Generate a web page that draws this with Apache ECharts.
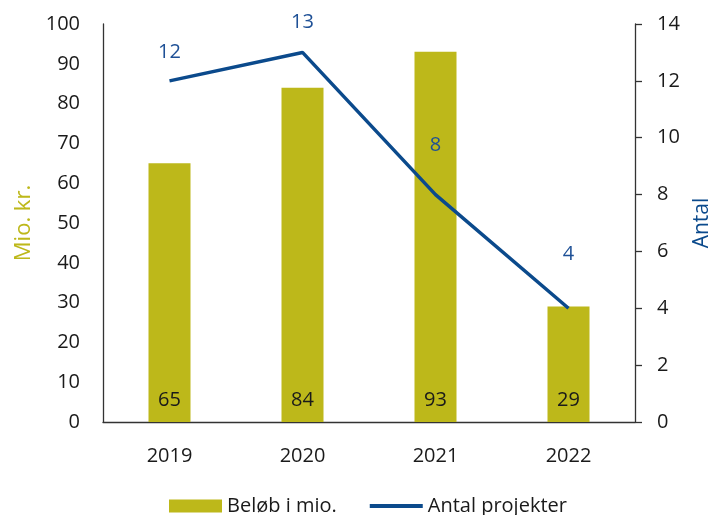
<!DOCTYPE html>
<html>
<head>
<meta charset="utf-8">
<script src="https://cdn.jsdelivr.net/npm/echarts@6/dist/echarts.min.js"></script>
<style>html,body{margin:0;padding:0;background:#fff}#c{width:712px;height:515px}</style>
</head>
<body>
<div id="c"></div>
<script>
var categories = ['2019', '2020', '2021', '2022'];
var amounts = [65, 84, 93, 29];
var projects = [12, 13, 8, 4];
var leftTicks = { min: 0, max: 100, interval: 10 };
var rightTicks = { min: 0, max: 14, interval: 2 };

var lineLabelDistances = [18, 20, 39, 43];
var FONT = 'Open Sans';
var FS = 20;
var OLIVE = '#BDB81A';
var BLUE = '#0B4A8C';
var LBLUE = '#1E5096';
var TXT = '#1a1a1a';

var chart = echarts.init(document.getElementById('c'));
chart.setOption({
  animation: false,
  textStyle: { fontFamily: FONT },
  grid: { left: 103, right: 77, top: 24, bottom: 93, containLabel: false, outerBoundsMode: 'none' },
  legend: {
    left: 164, top: 491,
    itemWidth: 53, itemHeight: 13, itemGap: 31,
    textStyle: { fontFamily: FONT, fontSize: FS, color: TXT },
    data: [
      { name: 'Beløb i mio.', icon: 'rect' },
      { name: 'Antal projekter', lineStyle: { width: 4, color: BLUE } }
    ]
  },
  xAxis: {
    type: 'category',
    data: categories,
    axisLine: { lineStyle: { color: '#333', width: 1.3 } },
    axisTick: { show: false },
    axisLabel: { margin: 24, fontSize: FS, color: TXT, fontFamily: FONT }
  },
  yAxis: [
    {
      type: 'value', min: leftTicks.min, max: leftTicks.max, interval: leftTicks.interval,
      name: 'Mio. kr.', nameLocation: 'middle', nameGap: 68, nameRotate: 90,
      nameTextStyle: { color: OLIVE, fontSize: 22, fontFamily: FONT },
      axisLine: { show: true, lineStyle: { color: '#333', width: 1.3 } },
      axisTick: { show: false },
      splitLine: { show: false },
      axisLabel: { margin: 23, fontSize: FS, color: TXT, fontFamily: FONT }
    },
    {
      type: 'value', min: rightTicks.min, max: rightTicks.max, interval: rightTicks.interval,
      position: 'right',
      name: 'Antal', nameLocation: 'middle', nameGap: 57, nameRotate: 90,
      nameTextStyle: { color: BLUE, fontSize: 21, fontFamily: FONT },
      axisLine: { show: true, lineStyle: { color: '#333', width: 1.3 } },
      axisTick: { show: true, length: 7, inside: false, lineStyle: { color: '#333', width: 1.3 } },
      splitLine: { show: false },
      axisLabel: { margin: 22, fontSize: FS, color: TXT, fontFamily: FONT }
    }
  ],
  series: [
    {
      name: 'Beløb i mio.',
      type: 'bar',
      yAxisIndex: 0,
      barWidth: 42,
      itemStyle: { color: OLIVE },
      label: { show: true, position: 'insideBottom', distance: 12, fontSize: FS, color: TXT, fontFamily: FONT },
      data: amounts
    },
    {
      name: 'Antal projekter',
      type: 'line',
      yAxisIndex: 1,
      symbol: 'circle',
      symbolSize: 1,
      showSymbol: true,
      lineStyle: { color: BLUE, width: 3.5 },
      itemStyle: { color: 'rgba(0,0,0,0)' },
      label: { show: true, position: 'top', fontSize: FS, color: LBLUE, fontFamily: FONT },
      data: projects.map(function (v, i) {
        return { value: v, label: { show: true, position: 'top', distance: lineLabelDistances[i] } };
      })
    }
  ]
});
</script>
</body>
</html>
